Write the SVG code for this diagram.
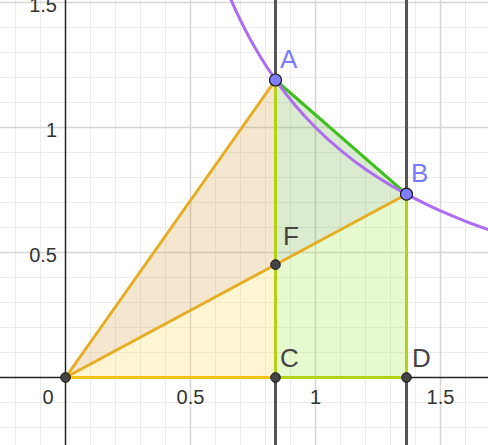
<svg xmlns="http://www.w3.org/2000/svg" width="488" height="445" viewBox="0 0 488 445">
<style>
.minor{stroke:#ececec;stroke-width:1;fill:none}
.major{stroke:#d6d6d6;stroke-width:1.5;fill:none}
.axis{stroke:#252525;stroke-width:1.5;fill:none}
.vline{stroke:#555555;stroke-width:3;fill:none}
.num{font-family:"Liberation Sans",Arial,sans-serif;font-size:20px;fill:#333333}
.lbl{font-family:"Liberation Sans",Arial,sans-serif;font-size:26px}
.dark{fill:#444444}
.blue{fill:#7b7bff}
.pt{fill:#444444;stroke:#111111;stroke-width:1}
.bpt{fill:#7f7fff;stroke:#1a1a1a;stroke-width:1.2}
.seg{stroke-width:3;fill:none;stroke-linecap:round}
</style>
<rect x="0" y="0" width="488" height="445" fill="#ffffff"/>
<g id="grid">
<path class="minor" d="M15.5 0V445M40.5 0V445M90.5 0V445M115.5 0V445M140.5 0V445M165.5 0V445M215.5 0V445M240.5 0V445M265.5 0V445M290.5 0V445M340.5 0V445M365.5 0V445M390.5 0V445M415.5 0V445M465.5 0V445"/>
<path class="minor" d="M0 427.5H488M0 402.5H488M0 352.5H488M0 327.5H488M0 302.5H488M0 277.5H488M0 227.5H488M0 202.5H488M0 177.5H488M0 152.5H488M0 102.5H488M0 77.5H488M0 52.5H488M0 27.5H488"/>
<path class="major" d="M190.5 0V445M315.5 0V445M440.5 0V445M0 252.5H488M0 127.5H488M0 2.5H488"/>
</g>
<g id="regions">
<polygon points="65.5,377.5 275.5,80 275.5,264.6" fill="#d9a040" fill-opacity="0.25"/>
<polygon points="65.5,377.5 275.5,264.6 275.5,377.5" fill="#ffd84a" fill-opacity="0.25"/>
<polygon points="275.5,80 406.5,194.2 275.5,264.6" fill="#70b040" fill-opacity="0.25"/>
<polygon points="275.5,264.6 406.5,194.2 406.5,377.5 275.5,377.5" fill="#9ce840" fill-opacity="0.25"/>
</g>
<g id="axes">
<path class="axis" d="M0 377.5H488M65.5 0V445"/>
<text class="num" x="48" y="404" text-anchor="middle">0</text>
<text class="num" x="190.5" y="404" text-anchor="middle">0.5</text>
<text class="num" x="315.5" y="404" text-anchor="middle">1</text>
<text class="num" x="440.5" y="404" text-anchor="middle">1.5</text>
<text class="num" x="57" y="262" text-anchor="end">0.5</text>
<text class="num" x="57" y="137" text-anchor="end">1</text>
<text class="num" x="57" y="12" text-anchor="end">1.5</text>
</g>
<g id="verticals">
<path class="vline" d="M275.5 0V445M406.5 0V445"/>
</g>
<g id="connectors">
<path class="seg" stroke="#f2c40f" d="M65.5 377.5H275.5"/>
<path class="seg" stroke="#b4d214" d="M275.5 80V377.5H406.5V194.2"/>
<path class="seg" stroke="#e6ad22" d="M65.5 377.5L275.5 80M65.5 377.5L406.5 194.2"/>
<path class="seg" stroke="#3cc11c" d="M275.5 80L406.5 194.2"/>
<polyline id="hyperbola" fill="none" stroke="#ad6cf2" stroke-width="3" points="230.5,-1.3 235.5,9.9 240.5,20.4 245.5,30.3 250.5,39.7 255.5,48.6 260.5,57 265.5,65 275.5,79.9 285.5,93.4 295.5,105.8 305.5,117.1 315.5,127.5 328,139.4 340.5,150.2 353,160.1 365.5,169.2 378,177.5 390.5,185.2 406.5,194.2 415.5,198.9 428,205.1 440.5,210.8 453,216.2 465.5,221.3 478,226 490.5,230.4"/>
</g>
<g id="O"><circle class="pt" cx="65.5" cy="377.5" r="4.8"/></g>
<g id="C"><circle class="pt" cx="275.5" cy="377.5" r="4.8"/><text class="lbl dark" x="280" y="367">C</text></g>
<g id="D"><circle class="pt" cx="406.5" cy="377.5" r="4.8"/><text class="lbl dark" x="412" y="367">D</text></g>
<g id="F"><circle class="pt" cx="275.5" cy="264.6" r="4.8"/><text class="lbl dark" x="283" y="245">F</text></g>
<g id="A"><circle class="bpt" cx="275.5" cy="80" r="6"/><text class="lbl blue" x="280" y="68">A</text></g>
<g id="B"><circle class="bpt" cx="406.5" cy="194.2" r="6"/><text class="lbl blue" x="411" y="182">B</text></g>
</svg>
